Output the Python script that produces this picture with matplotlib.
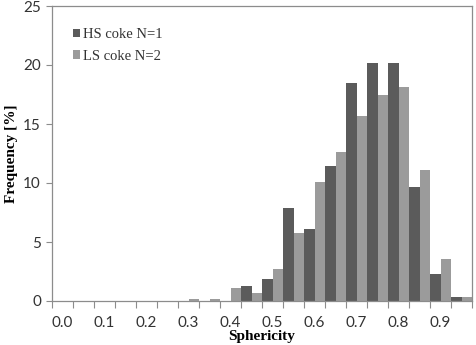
import matplotlib
matplotlib.use("Agg")
import matplotlib.pyplot as plt
import numpy as np

categories = [0.00, 0.05, 0.10, 0.15, 0.20, 0.25, 0.30, 0.35, 0.40, 0.45,
              0.50, 0.55, 0.60, 0.65, 0.70, 0.75, 0.80, 0.85, 0.90, 0.95]
hs_coke = [0, 0, 0, 0, 0, 0, 0, 0, 0, 1.3,
           1.9, 7.9, 6.1, 11.4, 18.5, 20.2, 20.2, 9.7, 2.3, 0.3]
ls_coke = [0, 0, 0, 0, 0, 0, 0.15, 0.15, 1.1, 0.7,
           2.7, 5.8, 10.1, 12.6, 15.7, 17.5, 18.1, 11.1, 3.6, 0.3]
tick_labels = ["0.0", "0.1", "0.2", "0.3", "0.4", "0.5", "0.6", "0.7", "0.8", "0.9"]
yticks = [0, 5, 10, 15, 20, 25]

dark = "#5b5b5b"
light = "#9b9b9b"
axis_gray = "#8c8c8c"

fig = plt.figure(figsize=(4.76, 3.45), dpi=100)
ax = fig.add_axes([52/476, 1 - 301/345, 420/476, 295/345])

x = np.arange(len(categories))
ax.bar(x - 0.25, hs_coke, width=0.5, color=dark, label="HS coke N=1", zorder=2)
ax.bar(x + 0.25, ls_coke, width=0.5, color=light, label="LS coke N=2", zorder=2)

ax.set_xlim(-0.5, len(categories) - 0.5)
ax.set_ylim(0, 25)

# major ticks for labels (no marks), minor ticks at category boundaries
ax.set_xticks(x[::2])
ax.set_xticklabels(tick_labels)
ax.set_xticks(np.arange(-0.5, len(categories), 1.0), minor=True)
ax.tick_params(axis="x", which="major", length=0, pad=11)
ax.tick_params(axis="x", which="minor", length=5, width=0.8, color=axis_gray, direction="out")
ax.set_yticks(yticks)
ax.tick_params(axis="y", which="major", length=4, width=0.8, color=axis_gray, direction="out", pad=4)

for lab in ax.get_xticklabels() + ax.get_yticklabels():
    lab.set_fontfamily("Lato")
    lab.set_fontsize(11)
    lab.set_color("#333333")

for side in ["left", "bottom", "top", "right"]:
    ax.spines[side].set_color(axis_gray)
    ax.spines[side].set_linewidth(0.9)

ax.set_xlabel("Sphericity", fontfamily="Liberation Serif", fontweight="bold", fontsize=11, labelpad=0)
ax.set_ylabel("Frequency [%]", fontfamily="Liberation Serif", fontweight="bold", fontsize=11, labelpad=4)

leg = ax.legend(loc="upper left", bbox_to_anchor=(0.018, 0.97), frameon=False,
                prop={"family": "Liberation Serif", "size": 10.5},
                handlelength=0.5, handleheight=0.5, handletextpad=0.2, labelspacing=0.6)
for t in leg.get_texts():
    t.set_color("#333333")

fig.savefig("out.png", dpi=100)
